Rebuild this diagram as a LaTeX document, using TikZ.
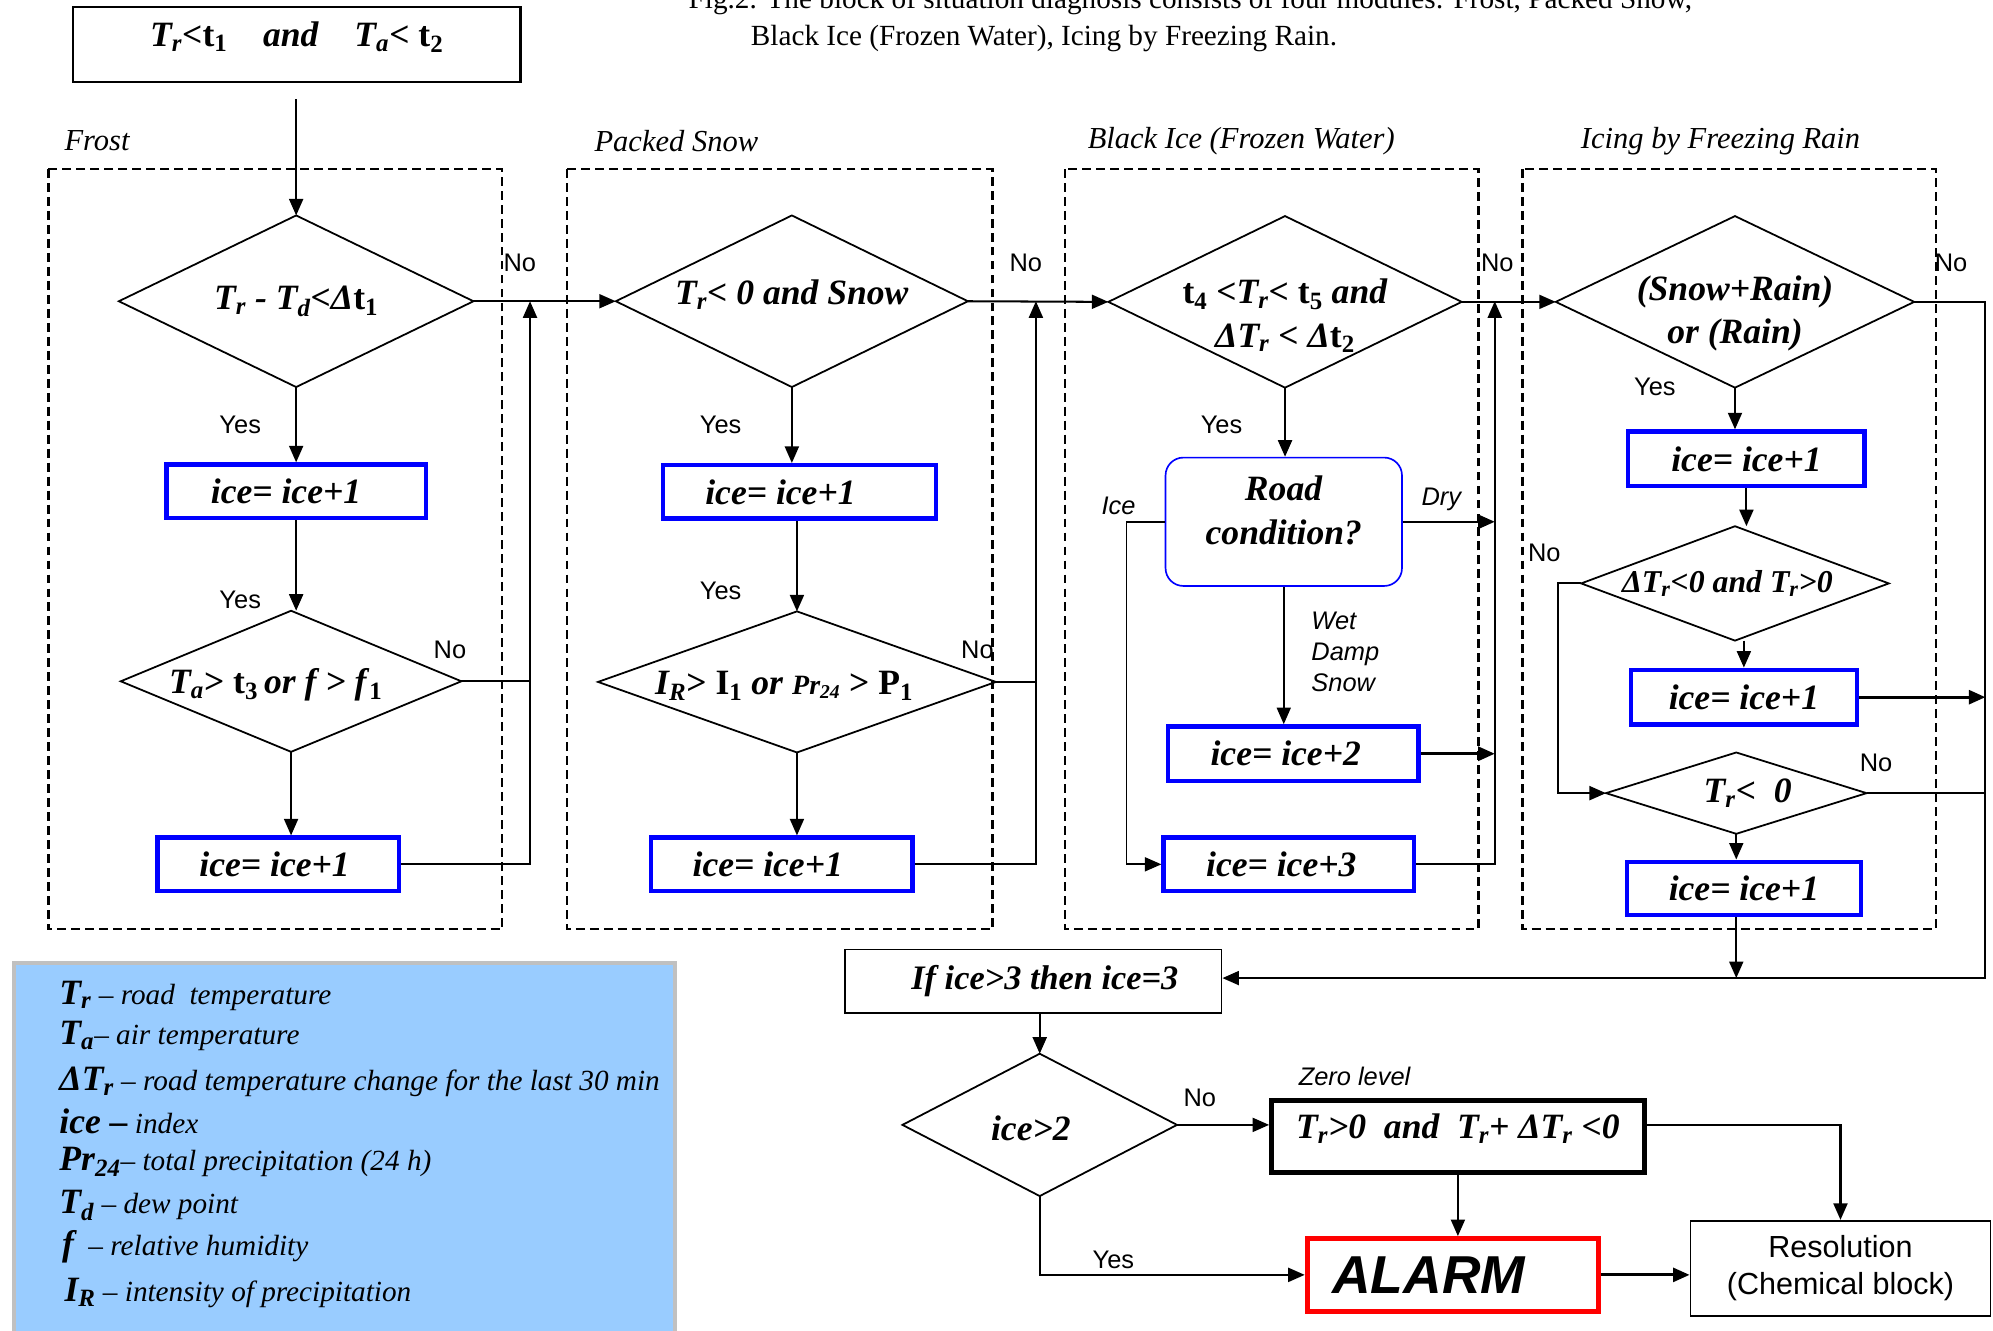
\documentclass[tikz,border=0pt]{standalone}
\usepackage{fontspec}
\setmainfont{Liberation Serif}
\newfontfamily\arialf{Liberation Sans}
\usetikzlibrary{shapes.geometric,arrows.meta}
\definecolor{legblue}{RGB}{153,204,255}
\definecolor{leggrey}{RGB}{192,192,192}
\definecolor{pureblue}{RGB}{0,0,255}
\definecolor{purered}{RGB}{255,0,0}
\newcommand\fs[2]{\fontsize{#1}{#2}\selectfont}
\newcommand\sym[1]{{\bfseries\fs{28}{28}#1}}
\newcommand\ts[1]{\textsubscript{#1}}
\begin{document}
\begin{tikzpicture}[x=1pt,y=-1pt,line width=1.6pt,
 arr/.style={-{Triangle[length=13pt,width=11pt]}},
 dia/.style={draw,diamond,line width=1.4pt,inner sep=0pt,outer sep=0pt},
 ftxt/.style={font=\fs{28}{34}\bfseries,align=center,inner sep=0pt},
 bluebox/.style={draw=pureblue,line width=3.5pt,inner sep=0pt,font=\fs{28}{34}\bfseries\itshape},
 yn/.style={font=\arialf\fs{20}{24},inner sep=0pt},
 iyn/.style={font=\arialf\itshape\fs{20}{24.5},inner sep=0pt},
 modlab/.style={font=\itshape\fs{24}{28},inner sep=0pt,anchor=west},
 modbox/.style={line width=2pt,dash pattern=on 7pt off 4pt},
 legtxt/.style={anchor=base west,inner sep=0pt,font=\fs{23}{28}\itshape},
]
\useasboundingbox (0,0) rectangle (1568,1047);
\clip (0,0) rectangle (1568,1047);

% caption
\node[anchor=base west,inner sep=0pt,font=\fs{23}{28}] (cap1) at (541,7) {Fig.2. The block of situation diagnosis consists of four modules: Frost, Packed Snow,};
\node[anchor=base west,inner sep=0pt,font=\fs{23}{28}] (cap2) at (590,36) {Black Ice (Frozen Water), Icing by Freezing Rain.};

% module frames
\draw[modbox] (38,133) rectangle (395,731);
\draw[modbox] (446,133) rectangle (781,731);
\draw[modbox] (838,133) rectangle (1163,731);
\draw[modbox] (1198,133) rectangle (1523,731);
\node[modlab] (mFrost) at (50,111) {Frost};
\node[modlab] (mSnow) at (467,111) {Packed Snow};
\node[modlab] (mBlack) at (855,111) {Black Ice (Frozen Water)};
\node[modlab] (mRain) at (1243,111) {Icing by Freezing Rain};

% top box
\node[draw,line width=2pt,minimum width=352,minimum height=59,inner sep=0pt,
  label={[ftxt,yshift=6pt]center:{\textit{T\ts{r}}<t\ts{1}\quad\textit{and}\quad\textit{T\ts{a}}< t\ts{2}}}] (T0) at (233.5,35) {};
\coordinate (c0) at (233,78);

% Frost
\node[dia,minimum width=279,minimum height=135,label={[ftxt]center:{\textit{T\ts{r} - T\ts{d}<Δ}t\ts{1}}}] (D1) at (233,237) {};
\node[bluebox,minimum width=204,minimum height=42] (B1) at (233,386.5) {ice= ice+1\hspace*{16pt}};
\node[dia,minimum width=268,minimum height=111,label={[ftxt,xshift=-12pt,yshift=-3pt]center:{\textit{T\ts{a}}> t\ts{3}\,\textit{or f > f}\ts{1}}}] (D2) at (229,536) {};
\node[bluebox,minimum width=190,minimum height=42] (B2) at (219,680) {ice= ice+1\hspace*{6pt}};

% Packed snow
\node[dia,minimum width=277,minimum height=135,label={[ftxt,yshift=5pt]center:{\textit{T\ts{r}< 0 and Snow}}}] (D3) at (623,237) {};
\node[bluebox,minimum width=215,minimum height=42] (B3) at (629,387) {ice= ice+1\hspace*{30pt}};
\node[dia,minimum width=313,minimum height=111,label={[ftxt,xshift=-10pt,yshift=-3pt]center:{\textit{I\ts{R}}> I\ts{1} \textit{or} {\fs{22}{22}\textit{Pr\ts{24}}} > P\ts{1}}}] (D4) at (627,536.5) {};
\node[bluebox,minimum width=206,minimum height=42] (B4) at (615,680) {ice= ice+1\hspace*{22pt}};

% Black ice
\node[dia,minimum width=278,minimum height=135,label={[ftxt,yshift=-11pt]center:{t\ts{4} <\textit{T\ts{r}}< t\ts{5} \textit{and}\\\textit{ΔT\ts{r} < Δ}t\ts{2}}}] (D5) at (1011,237.5) {};
\node[draw=pureblue,line width=1.3pt,rounded corners=14pt,minimum width=186,minimum height=101,inner sep=0pt,
  label={[ftxt,yshift=9pt]center:{\textit{Road}\\\textit{condition?}}}] (R) at (1010,410.5) {};
\node[bluebox,minimum width=197,minimum height=43] (B5) at (1017.5,593) {ice= ice+2\hspace*{12pt}};
\node[bluebox,minimum width=197,minimum height=42] (B6) at (1014,680) {ice= ice+3\hspace*{12pt}};

% Icing by freezing rain
\node[dia,minimum width=282,minimum height=135,label={[ftxt,yshift=-9pt]center:{\textit{(Snow+Rain)}\\\textit{or (Rain)}}}] (D7) at (1365,237.5) {};
\node[bluebox,minimum width=186,minimum height=43] (B7) at (1374,361) {ice= ice+1};
\node[dia,minimum width=242,minimum height=90,label={[ftxt,font=\fs{25}{30}\bfseries,xshift=-6pt]center:{\textit{ΔT\ts{r}<0 and T\ts{r}>0}}}] (D8) at (1365,459) {};
\node[bluebox,minimum width=178,minimum height=43] (B8) at (1372,548.5) {ice= ice+1};
\node[dia,minimum width=205,minimum height=64,label={[ftxt,xshift=9pt]center:{\textit{T\ts{r}<\ \ 0}}}] (D9) at (1366,624) {};
\node[bluebox,minimum width=184,minimum height=42] (B9) at (1372,699) {ice= ice+1};

% bottom part
\node[draw,line width=1.5pt,minimum width=296,minimum height=50,inner sep=0pt,
  label={[ftxt,font=\fs{27}{30}\bfseries,xshift=9pt]center:{\textit{If ice>3 then ice=3}}}] (IF) at (813,772) {};
\node[dia,minimum width=216,minimum height=112,label={[ftxt,xshift=-7pt,yshift=-3pt]center:{\textit{ice>2}}}] (D10) at (818,885) {};
\node[draw,line width=4pt,minimum width=293,minimum height=57,inner sep=0pt,
  label={[ftxt,yshift=6pt]center:{\textit{T\ts{r}>0\ \ and\ \ T\ts{r}+ ΔT\ts{r} <0}}}] (Z) at (1147,894) {};
\node[draw=purered,line width=4pt,minimum width=229,minimum height=57,inner sep=0pt,
  font=\arialf\bfseries\itshape\fs{42}{42}] (AL) at (1143,1003) {ALARM\hspace*{38pt}};
\node[draw,line width=1.5pt,minimum width=236,minimum height=75,inner sep=0pt,align=center,
  font=\arialf\fs{24}{29}] (RES) at (1448,998) {Resolution\\(Chemical block)};
\node[iyn,anchor=west] (zl) at (1021,847) {Zero level};

% coordinates of the collecting lines
\coordinate (f1) at (417,237);
\coordinate (p1) at (815,237);
\coordinate (b1) at (1176,237);
\coordinate (r1) at (1562,237);
\coordinate (r2) at (1562,769.5);

% Frost connectors
\draw[arr] (c0) -- (D1.north);
\draw[arr] (D1.east) -- (D3.west);
\draw[arr] (D1.south) -- (B1.north);
\draw[arr] (B1.south) -- (B1.south |- D2.north);
\draw (D2.east) -- (D2.east -| f1);
\draw[arr] (D2.south) -- (D2.south |- B2.north);
\draw[arr] (B2.east) -| (f1);

% Packed snow connectors
\draw[arr] (D3.east) -- (D5.west);
\draw[arr] (D3.south) -- (D3.south |- B3.north);
\draw[arr] (D4.north |- B3.south) -- (D4.north);
\draw (D4.east) -- (D4.east -| p1);
\draw[arr] (D4.south) -- (D4.south |- B4.north);
\draw[arr] (B4.east) -| (p1);

% Black ice connectors
\draw[arr] (D5.east) -- (D7.west);
\draw[arr] (D5.south) -- (D5.south |- R.north);
\draw[arr,line width=1.3pt] (R.west) -- ++(-30,0) |- (B6.west);
\draw[arr,line width=2pt] (R.east) -- (R.east -| b1);
\draw[arr,line width=1.3pt] (R.south) -- (R.south |- B5.north);
\draw[arr,line width=2.2pt] (B5.east) -- (B5.east -| b1);
\draw[arr] (B6.east) -| (b1);

% Icing connectors
\draw[arr] (D7.east) -| (r2) -- (r2 -| IF.east);
\draw[arr] (D7.south) -- (D7.south |- B7.north);
\draw[arr] (B7.south) -- (B7.south |- D8.north);
\draw[arr] (D8.west) -- ++(-18,0) |- (D9.west);
\draw[arr] (B8.north |- D8.south) -- (B8.north);
\draw[arr,line width=2.2pt] (B8.east) -- (B8.east -| r1);
\draw (D9.east) -- (D9.east -| r1);
\draw[arr] (D9.south) -- (D9.south |- B9.north);
\draw[arr] (D9.south |- B9.south) -- (D9.south |- r2);

% bottom connectors
\draw[arr] (D10.north |- IF.south) -- (D10.north);
\draw[arr] (D10.east) -- (D10.east -| Z.west);
\draw[arr] (Z.south) -- (Z.south |- AL.north);
\draw[arr] (D10.east -| Z.east) -| (RES.north);
\draw[arr] (D10.south) |- (AL.west);
\draw[arr,line width=2.2pt] (AL.east) -- (AL.east -| RES.west);

% Yes / No labels
\node[yn] (n1) at (409,207) {No};
\node[yn] (n2) at (807,207) {No};
\node[yn] (n3) at (1178,207) {No};
\node[yn] (n4) at (1535,207) {No};
\node[yn] (n5) at (354,511) {No};
\node[yn] (n6) at (769,511) {No};
\node[yn] (n7) at (1215,435) {No};
\node[yn] (n8) at (1476,600) {No};
\node[yn] (n9) at (944,864) {No};
\node[yn] (y1) at (189,334) {Yes};
\node[yn] (y2) at (189,472) {Yes};
\node[yn] (y3) at (567,334) {Yes};
\node[yn] (y4) at (567,465) {Yes};
\node[yn] (y5) at (961,334) {Yes};
\node[yn] (y6) at (1302,304) {Yes};
\node[yn] (y7) at (876,991) {Yes};
\node[iyn] (ice) at (880,398) {Ice};
\node[iyn] (dry) at (1134,393) {Dry};
\node[iyn,anchor=west,align=left] (wds) at (1031,513) {Wet\\Damp\\Snow};

% legend
\node[draw=leggrey,fill=legblue,line width=3.5pt,minimum width=520,minimum height=320,inner sep=0pt,outer sep=0pt] (leg) at (271,917.5) {};
\node[legtxt] (l1) at (46,790) {\sym{T\ts{r}} – road\ \ temperature};
\node[legtxt] (l2) at (46,822) {\sym{T\ts{a}}– air temperature};
\node[legtxt] (l3) at (46,858) {\sym{ΔT\ts{r}} – road temperature change for the last 30 min};
\node[legtxt] (l4) at (46,892) {\sym{ice –} index};
\node[legtxt] (l5) at (46,921) {\sym{Pr\ts{24}}– total precipitation (24 h)};
\node[legtxt] (l6) at (46,955) {\sym{T\ts{d}} – dew point};
\node[legtxt] (l7) at (48,988) {\sym{f}\ \ – relative humidity};
\node[legtxt] (l8) at (50,1024) {\sym{I\ts{R}} – intensity of precipitation};
\end{tikzpicture}
\end{document}
